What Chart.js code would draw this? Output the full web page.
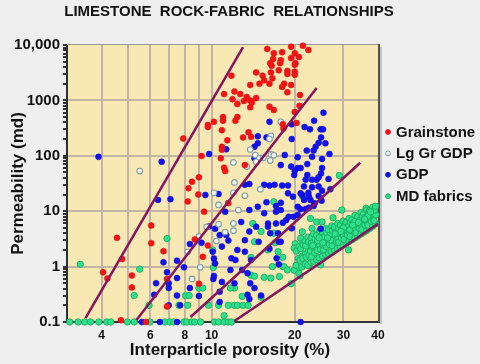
<!DOCTYPE html>
<html>
<head>
<meta charset="utf-8">
<script src="https://cdn.jsdelivr.net/npm/chart.js@4.4.1/dist/chart.umd.min.js"></script>
<style>
  html, body { margin: 0; padding: 0; background: #efefef; }
  #wrap { width: 480px; height: 364px; }
</style>
</head>
<body>
<div id="wrap"><canvas id="rockChart"></canvas></div>
<script>
// porosity (%) / permeability (md) pairs
const grainstone = [
  [15.9,8500],[19.4,9300],[21.4,9700],[22.4,8100],[16.8,7100],[18.0,7400],[20.0,7100],[20.7,6100],
  [19.4,5800],[16.7,5600],[17.8,5300],[16.3,4700],[17.7,4700],[20.1,4700],[16.5,4200],[20.0,4400],
  [14.5,3200],[16.4,3200],[17.5,3500],[18.8,3400],[20.0,3300],[18.8,3000],[20.0,2900],[11.8,2800],
  [15.3,2800],[15.5,2300],[16.6,2500],[14.9,2000],[13.8,1900],[16.2,2000],[18.3,2000],[19.4,1900],
  [18.0,1750],[18.8,1400],[12.1,1450],[12.7,1300],[11.1,1300],[13.4,1150],[13.8,1000],[14.5,1100],
  [11.9,1050],[13.1,980],[14.0,920],[12.4,860],[20.9,1250],[20.8,800],[13.8,750],[16.2,770],
  [16.8,670],[20.0,620],[10.2,410],[11.0,500],[11.0,430],[12.4,500],[12.2,430],[9.7,360],
  [9.7,330],[10.9,290],[18.1,370],[20.3,390],[18.2,310],[11.4,190],[13.0,215],[13.6,265],
  [13.9,220],[10.9,145],[10.9,128],[9.2,99],[10.8,90],[13.2,68],[11.1,61],[7.9,205],
  [9.0,41],[8.5,34],[8.25,26],[8.95,20],[8.2,15],[9.4,9.8],[6.05,5.5],[8.7,3.1],
  [9.7,2.4],[6.05,2.65],[4.55,3.3],[6.7,1.9],[4.75,1.37],[4.05,0.79],[4.2,0.61],[5.15,0.69],
  [5.15,0.42],[6.9,0.6],[9.0,0.49],[6.9,0.19],[4.7,0.108],[5.8,0.1],[11.2,53],[11.5,14],[9.3,1.5]
];
const lgGrGdp = [
  [17.8,410],[16.4,230],[16.2,200],[13.8,130],[14.4,103],[14.9,90],[15.4,92],[16.4,106],
  [16.8,102],[16.3,82],[12.0,76],[13.4,64],[14.5,78],[5.5,53],[10.2,21.5],[10.6,13],
  [9.0,3.5],[8.2,1.85],[10.4,2.9],[10.6,5.8],[9.1,0.97],[8.5,0.6],[12.1,33],[12.0,21.5],
  [12.5,10.5],[15.0,25],[13.2,19],[12.0,6.0],[12.0,4.45],[11.2,4.2],[9.6,5.2]
];
const gdp = [
  [3.9,96],[6.6,78],[9.8,108],[6.4,16],[7.1,16.5],[9.5,19.6],[10.6,20.5],[9.8,5.3],
  [10.3,4.8],[10.7,3.7],[8.35,2.55],[9.2,2.7],[6.7,1.2],[7.5,1.28],[6.9,0.79],[7.95,0.97],
  [10.2,1.4],[10.15,0.6],[6.3,0.5],[7.0,0.5],[7.0,0.41],[8.35,0.41],[7.5,0.62],[6.2,0.31],
  [7.5,0.3],[9.0,0.295],[7.0,0.2],[10.7,0.23],[5.6,0.1],[6.5,0.1],[7.5,0.1],[7.7,0.2],[21,0.1],
  [16.2,410],[19.5,370],[23.5,430],[25.4,600],[21.7,330],[22.7,300],[24.8,300],[25.3,300],
  [24.9,215],[24.4,172],[25.8,168],[19.5,200],[14.7,225],[15.8,215],[14.7,168],[14.3,146],
  [11.3,131],[14.3,90],[18.4,103],[20.5,94],[22.1,124],[23.8,146],[23.4,124],[25.1,88],
  [26.7,108],[17.8,68],[19.4,64],[20.5,60],[21.0,60],[22.2,71],[23.1,96],[25.1,60],
  [24.9,48],[22.2,45],[21.9,37],[23.1,37],[24.0,37],[24.4,41],[26.5,38],[21.6,28],
  [23.1,27],[24.4,28],[25.1,23.5],[26.9,25],[21.3,19.6],[22.5,18.3],[24.4,18.8],[22.8,16],
  [25.0,15.5],[23.4,12.4],[22.5,11.6],[13.2,30],[13.7,31],[15.5,30],[16.2,29],[16.9,30],
  [18.0,29],[18.9,29],[19.9,45],[20.0,53],[22.4,21.5],[21.0,21],[18.9,21],[19.7,18.3],
  [21.6,16],[23.6,13.9],[20.5,12],[17.8,14.2],[17.1,12.4],[15.8,14.5],[14.7,12],[13.7,10.5],
  [11.2,9.8],[15.5,9.2],[17.1,9.8],[17.8,10.5],[19.0,7.9],[20.5,8.5],[18.6,6.9],[16.0,6.0],
  [17.1,6.0],[18.1,6.2],[12.8,6.4],[14.5,5.25],[16.0,5.25],[13.7,4.3],[16.3,4.0],[17.4,4.0],
  [11.3,3.7],[11.5,2.95],[13.2,3.0],[14.8,2.8],[17.5,2.8],[16.2,2.1],[10.9,2.3],[10.1,1.86],
  [12.4,2.0],[13.2,1.86],[11.8,1.41],[12.2,1.32],[13.9,1.32],[17.2,1.41],[17.5,1.1],[10.3,1.14],
  [11.7,0.87],[12.9,0.87],[13.5,0.76],[10.2,0.68],[10.9,0.53],[12.1,0.5],[13.8,0.5],[14.3,0.41],
  [10.7,0.35],[13.5,0.31],[15.1,0.3],[13.7,0.26],[21.9,11],[21.0,10.8],[19.8,7.9],[19.5,4.9],
  [24.8,4.8],[17.8,2.8]
];
const mdFabrics = [
  // points sitting on the 0.1 md floor and on the 0.2 md row
  [3.07,0.1],[3.29,0.1],[3.48,0.1],[3.65,0.1],[3.91,0.1],[4.18,0.1],[4.32,0.1],[4.96,0.1],
  [5.25,0.1],[5.99,0.1],[6.79,0.1],[7.07,0.1],[7.3,0.1],[7.94,0.1],[8.14,0.1],[8.48,0.1],
  [8.69,0.1],[9.13,0.1],[10.25,0.1],[10.6,0.1],[11.1,0.1],[11.5,0.1],[11.8,0.1],
  [5.94,0.2],[7.62,0.2],[8.2,0.2],[9.75,0.2],[10.6,0.2],[11.5,0.2],[12.1,0.2],[12.4,0.2],
  [13.0,0.2],[13.55,0.2],
  // scattered
  [11.1,0.13],[3.35,1.1],[6.9,3.2],[5.5,0.9],[5.25,0.3],[8.05,0.3],[8.3,0.3],[9.0,0.41],
  [9.3,0.41],[10.15,0.96],[10.1,2.0],[16.8,14.8],[21.3,18.8],[14.1,6.0],[15.1,4.3],[16.8,4.0],
  [14.3,2.8],[17.0,2.7],[16.0,2.0],[17.4,1.86],[13.9,1.47],[18.1,1.47],[16.6,1.0],[18.1,1.0],
  [13.9,0.7],[14.3,0.67],[15.5,0.64],[16.4,0.62],[17.6,0.66],[12.1,0.41],[11.7,0.41],[12.9,0.29],
  [15.1,0.28],[19.4,0.49],[20.9,0.68],[20.5,0.87],[29.6,10.5],[35.2,9.2],[36.2,11.3],[38.3,11.3],
  [27.5,7.6],[22.8,7.4],[24.0,6.4],[25.1,6.4],[23.1,4.9],[21.3,4.25],[21.0,3.25],[20.1,2.6],
  [19.9,2.15],[18.3,0.99],[18.8,0.87],[19.9,0.86],[20.7,0.76],[22.5,1.07],[24.8,1.07],[31.3,2.0],
  [29.0,44],
  // dense cloud between the two lower lines
  [20.2,1.05],[20.6,1.4],[20.3,1.9],[20.7,2.3],
  [21.2,0.98],[20.9,1.3],[21.3,1.55],[21.0,2.1],[21.4,2.7],
  [21.8,1.12],[21.4,1.42],[21.9,1.7],[21.5,2.45],[21.8,2.9],
  [22.3,1.05],[22.0,1.5],[22.4,2.0],[21.9,2.35],[22.3,3.4],
  [22.9,1.2],[22.5,1.6],[22.8,1.9],[22.4,2.8],[22.9,3.3],
  [23.4,1.25],[23.0,1.5],[23.5,2.2],[23.0,2.65],[23.4,3.9],
  [24.0,1.35],[23.6,1.8],[24.1,2.15],[23.7,3.2],[24.0,3.7],
  [24.5,1.45],[24.1,1.95],[24.6,2.5],[24.2,2.95],[24.6,4.4],
  [25.2,1.55],[24.8,2.05],[25.3,2.45],[24.9,3.6],[25.2,4.2],
  [25.8,1.65],[25.4,2.0],[25.9,2.9],[25.5,3.4],[25.9,4.9],
  [26.5,1.72],[26.0,2.3],[26.6,2.75],[26.1,4.0],[26.5,4.6],
  [27.1,1.85],[26.7,2.5],[27.2,3.2],[26.8,3.7],[27.2,5.4],
  [27.8,2.0],[27.3,2.4],[27.9,3.4],[27.4,4.5],[27.8,5.1],
  [28.5,2.15],[28.1,2.9],[28.6,3.3],[28.1,4.2],[28.6,6.0],
  [29.2,2.3],[28.8,2.75],[29.3,3.9],[28.8,4.9],[29.2,5.6],
  [29.9,2.45],[29.5,3.25],[30.0,3.7],[29.5,4.6],[29.9,6.6],
  [30.7,2.65],[30.2,3.1],[30.8,4.4],[30.3,5.5],[30.7,6.3],
  [31.4,2.85],[31.0,3.7],[31.5,4.2],[31.0,5.2],[31.4,7.4],
  [32.2,3.05],[31.7,3.5],[32.3,5.0],[31.8,6.3],[32.2,7.0],
  [33.0,3.3],[32.6,4.3],[33.1,4.9],[32.6,6.0],[33.0,8.4],
  [33.8,3.55],[33.3,4.1],[33.9,5.7],[33.4,7.1],[33.8,8.0],
  [34.7,3.85],[34.2,4.9],[34.8,5.6],[34.3,6.8],[34.7,9.4],
  [35.5,4.15],[35.0,4.7],[35.6,6.5],[35.1,8.1],[35.5,9.0],
  [36.4,4.45],[35.9,5.6],[36.5,6.4],[36.0,7.7],[36.4,10.5],
  [37.3,4.85],[36.8,5.6],[37.4,7.5],[36.9,9.3],[37.3,10.1],
  [38.3,5.35],[37.8,6.6],[38.4,7.5],[37.9,8.8],[38.3,11.8],
  [39.2,5.9],[38.7,6.8],[39.3,8.6],[38.8,10.4],[39.2,12.3],
  [27.0,3.0],[30.0,5.0],[33.0,6.5],[24.5,3.3],[36.8,8.2],[28.0,3.9],[31.6,4.6],[25.3,2.7],
  [34.0,6.3],[35.8,7.2],[26.3,3.3],[29.4,4.3],[32.4,5.6],[37.6,9.7],[23.2,2.4]
];

// rock-fabric boundary lines, end points (porosity %, permeability md)
const boundary1 = [[3.5,0.118],[13.0,9200]];
const boundary2 = [[5.35,0.109],[24.0,1675]];
const boundary3 = [[8.4,0.123],[34.5,75]];
const boundary4 = [[12.1,0.104],[40,5.9]];

const xTickValues = [3,4,5,6,7,8,9,10,20,30,40];
const xTickLabels = [4,6,8,10,20,30,40];
const yDecades = [0.1,1,10,100,1000,10000];
const yTickLabels = ['0.1','1','10','100','1000','10,000'];

const seriesNames = ['Grainstone','Lg Gr GDP','GDP','MD fabrics'];
const chartTitle = 'LIMESTONE  ROCK-FABRIC  RELATIONSHIPS';
const xTitle = 'Interparticle porosity (%)';
const yTitle = 'Permeability (md)';

const FONT = 'Liberation Sans, Arial, Helvetica, sans-serif';
const GRID = '#c4b4a6';
const LINE = '#85155f';

const toXY = arr => arr.map(p => ({ x: p[0], y: p[1] }));

// y ticks: every 1..9 step of each decade, labels only on the decades
const yTicks = [];
yDecades.slice(0, -1).forEach(d => { for (let k = 1; k < 10; k++) yTicks.push(d * k); });
yTicks.push(yDecades[yDecades.length - 1]);
const decadeIndex = v => yDecades.findIndex(d => Math.abs(v / d - 1) < 1e-6);

const pointSets = [
  { label: seriesNames[0], data: toXY(grainstone), backgroundColor: '#f41414', borderColor: '#e00c0c', borderWidth: 0.5, pointRadius: 3 },
  { label: seriesNames[1], data: toXY(lgGrGdp), backgroundColor: '#f3f7f3', borderColor: '#7d9ea2', borderWidth: 1.1, pointRadius: 2.8 },
  { label: seriesNames[2], data: toXY(gdp), backgroundColor: '#1212ec', borderColor: '#0a0ad0', borderWidth: 0.5, pointRadius: 3 },
  { label: seriesNames[3], data: toXY(mdFabrics), backgroundColor: '#2fe08a', borderColor: '#17a65a', borderWidth: 0.8, pointRadius: 3.2 }
];

const lineSets = [boundary1, boundary2, boundary3, boundary4].map((b, i) => ({
  label: 'boundary' + (i + 1),
  data: toXY(b),
  showLine: true,
  borderColor: LINE,
  borderWidth: 2.5,
  pointRadius: 0,
  order: -1
}));

const decorPlugin = {
  id: 'decor',
  beforeDraw(chart) {
    const { ctx, chartArea: a } = chart;
    ctx.save();
    ctx.fillStyle = '#f8e9b4';
    ctx.fillRect(a.left, a.top, a.right - a.left, a.bottom - a.top);
    ctx.restore();
  },
  beforeDatasetsDraw(chart) {
    const { ctx, chartArea: a } = chart;
    ctx.save();
    ctx.fillStyle = '#9a9a9a';
    ctx.fillRect(a.left, a.top - 1, a.right - a.left, 1);
    ctx.fillStyle = 'rgba(0,0,0,0.18)';
    ctx.fillRect(a.right + 2, a.top + 2, 2, a.bottom - a.top);
    ctx.fillStyle = '#505050';
    ctx.fillRect(a.right, a.top - 1, 2, a.bottom - a.top + 2);
    ctx.restore();
  },
  afterDraw(chart) {
    const { ctx, chartArea: a } = chart;
    ctx.save();
    ctx.fillStyle = '#111';
    ctx.textBaseline = 'middle';
    ctx.textAlign = 'center';
    ctx.font = 'bold 15px ' + FONT;
    ctx.fillText(chartTitle, 229, 11.5);

    ctx.font = 'bold 17px ' + FONT;
    ctx.fillText(xTitle, 230, 350);

    // legend
    ctx.textAlign = 'left';
    ctx.font = 'bold 15px ' + FONT;
    pointSets.forEach((s, i) => {
      const y = 132 + i * 21.4;
      ctx.beginPath();
      ctx.arc(388, y, 2.4, 0, Math.PI * 2);
      ctx.fillStyle = s.backgroundColor;
      ctx.fill();
      ctx.lineWidth = 1;
      ctx.strokeStyle = s.borderColor;
      ctx.stroke();
      ctx.fillStyle = '#111';
      ctx.fillText(s.label, 396, y + 0.5);
    });
    ctx.restore();
  }
};

Chart.defaults.font.family = FONT;

new Chart(document.getElementById('rockChart'), {
  type: 'scatter',
  data: { datasets: [...lineSets, ...pointSets] },
  options: {
    responsive: true,
    maintainAspectRatio: false,
    animation: false,
    events: [],
    clip: false,
    layout: { padding: { left: 0, right: 102, top: 45, bottom: 0 } },
    plugins: {
      legend: { display: false },
      tooltip: { enabled: false },
      title: { display: false }
    },
    scales: {
      x: {
        type: 'logarithmic',
        min: 3,
        max: 40,
        afterBuildTicks: s => { s.ticks = xTickValues.map(v => ({ value: v })); },
        afterFit: s => { s.height = 42; },
        ticks: {
          autoSkip: false,
          maxRotation: 0,
          padding: 6,
          color: '#111',
          font: { size: 12, weight: 'bold' },
          callback: v => xTickLabels.includes(v) ? String(v) : ''
        },
        grid: {
          drawTicks: false,
          lineWidth: 2,
          color: c => (c.tick && c.tick.value > 3 && c.tick.value < 40) ? GRID : 'rgba(0,0,0,0)'
        },
        border: { display: true, color: '#303030', width: 2 }
      },
      y: {
        type: 'logarithmic',
        min: 0.1,
        max: 10000,
        afterBuildTicks: s => { s.ticks = yTicks.map(v => ({ value: v })); },
        afterFit: s => { s.width = 67; },
        ticks: {
          autoSkip: false,
          padding: 3,
          color: '#111',
          font: { size: 15, weight: 'bold' },
          callback: v => { const i = decadeIndex(v); return i >= 0 ? yTickLabels[i] : ''; }
        },
        grid: {
          drawTicks: true,
          tickLength: 4,
          tickColor: '#333',
          lineWidth: 2,
          color: c => {
            if (!c.tick) return 'rgba(0,0,0,0)';
            const i = decadeIndex(c.tick.value);
            return (i > 0 && i < yDecades.length - 1) ? GRID : 'rgba(0,0,0,0)';
          }
        },
        border: { display: true, color: '#303030', width: 2 },
        title: {
          display: true,
          text: yTitle,
          color: '#111',
          font: { size: 17, weight: 'bold' },
          padding: { top: 8, bottom: 0 }
        }
      }
    }
  },
  plugins: [decorPlugin]
});
</script>
</body>
</html>
